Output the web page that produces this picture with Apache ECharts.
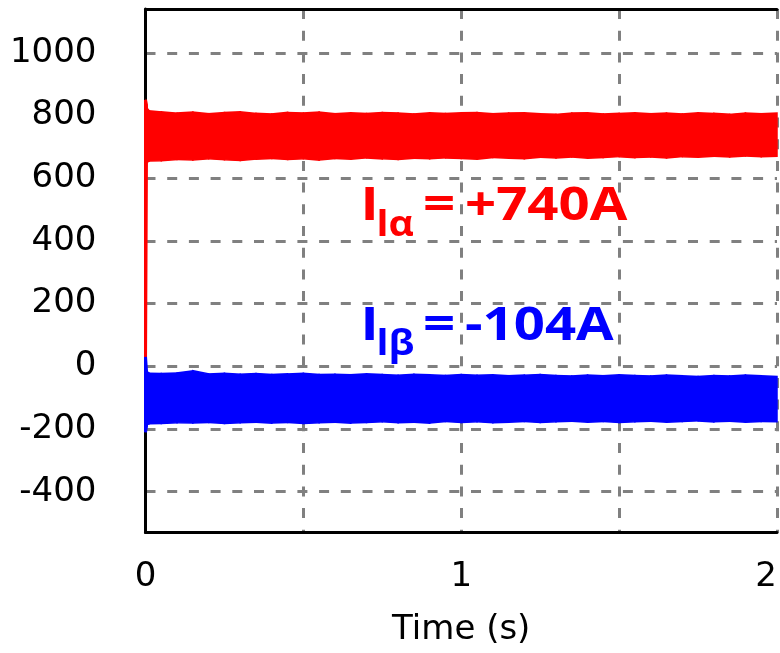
<!DOCTYPE html>
<html>
<head>
<meta charset="utf-8">
<script src="https://cdn.jsdelivr.net/npm/echarts@6/dist/echarts.min.js"></script>
<style>
html,body{margin:0;padding:0;background:#fff;}
#c{width:780px;height:653px;}
</style>
</head>
<body>
<div id="c"></div>
<script>
// ---- data ----
const time = [0, 0.003, 0.006, 0.012,
  0.05, 0.10, 0.15, 0.20, 0.25, 0.30, 0.35, 0.40, 0.45, 0.50,
  0.55, 0.60, 0.65, 0.70, 0.75, 0.80, 0.85, 0.90, 0.95, 1.00,
  1.05, 1.10, 1.15, 1.20, 1.25, 1.30, 1.35, 1.40, 1.45, 1.50,
  1.55, 1.60, 1.65, 1.70, 1.75, 1.80, 1.85, 1.90, 1.95, 2.00];
const iAlphaUpper = [850, 835, 822, 815,
  812, 808, 811, 806, 810, 812, 807, 805, 810, 808,
  811, 806, 809, 807, 810, 808, 805, 809, 807, 809,
  810, 806, 808, 809, 806, 804, 808, 809, 805, 807,
  809, 806, 808, 805, 809, 807, 804, 808, 806, 808];
const iAlphaLower = [0, 648, 652, 655,
  656, 660, 658, 662, 659, 657, 661, 663, 660, 662,
  658, 663, 661, 665, 662, 660, 664, 662, 665, 663,
  661, 666, 664, 662, 667, 665, 668, 664, 666, 669,
  666, 668, 665, 669, 667, 670, 668, 671, 669, 670];
const iBetaUpper = [30, -12, -18, -22,
  -23, -21, -14, -24, -22, -25, -23, -26, -24, -22,
  -26, -25, -27, -24, -26, -28, -25, -27, -29, -26,
  -28, -27, -30, -28, -26, -29, -31, -28, -30, -27,
  -29, -31, -28, -30, -32, -29, -31, -28, -30, -32];
const iBetaLower = [-210, -192, -186, -183,
  -182, -180, -181, -179, -182, -180, -178, -181, -179, -182,
  -180, -178, -181, -179, -177, -180, -178, -181, -176, -179,
  -177, -180, -178, -176, -179, -177, -175, -178, -176, -179,
  -177, -175, -178, -176, -174, -177, -175, -178, -176, -177];
const yTickLabels = [-400, -200, 0, 200, 400, 600, 800, 1000];
const xTickLabels = [0, 1, 2];
const xAxisTitle = 'Time (s)';
const annoMain = ['I', 'I'];
const annoSub = ['lα', 'lβ'];
const annoValue = ['+740A', '-104A'];

// ---- chart ----
const chart = echarts.init(document.getElementById('c'), null, {renderer: 'canvas'});
const RED = '#ff0000', BLUE = '#0000ff';

// each item: one segment of the band [t0, lower0, upper0, t1, lower1, upper1]
function bandSegments(lo, up) {
  const out = [];
  for (let i = 0; i < time.length - 1; i++) {
    out.push([time[i], lo[i], up[i], time[i + 1], lo[i + 1], up[i + 1]]);
  }
  return out;
}
function bandSeries(lo, up, color, z) {
  return {
    type: 'custom', z: z, clip: false,
    data: bandSegments(lo, up),
    encode: {x: [0, 3], y: [1, 2, 4, 5]},
    renderItem: function (params, api) {
      const pts = [
        api.coord([api.value(0), api.value(1)]),
        api.coord([api.value(3), api.value(4)]),
        api.coord([api.value(3), api.value(5)]),
        api.coord([api.value(0), api.value(2)])
      ];
      return {type: 'polygon', shape: {points: pts},
        style: {fill: color, stroke: color, lineWidth: params.dataIndex === 0 ? 3 : 1.5}};
    }
  };
}

const gridLine = {lineStyle: {color: '#808080', width: 3, type: [10, 11.7]}};
const labelFont = {fontFamily: 'DejaVu Sans', fontSize: 34, color: '#000'};

function annoText(x, y, text, color, size, sx) {
  return {type: 'text', x: x, y: y, scaleX: sx, z: 100,
    style: {text: text, fill: color, fontFamily: 'Open Sans', fontWeight: 'bold',
      fontSize: size, align: 'left', verticalAlign: 'middle'}};
}

const option = {
  animation: false,
  backgroundColor: '#fff',
  grid: {left: 145.5, right: 1, top: 9, bottom: 120.5, containLabel: false},
  xAxis: [{
    type: 'value', min: 0, max: 2, interval: 0.5,
    axisLine: {show: true, onZero: false, lineStyle: {color: '#000', width: 3}},
    axisTick: {show: false},
    axisLabel: Object.assign({
      margin: 28, alignMaxLabel: 'right',
      formatter: v => (xTickLabels.indexOf(v) >= 0 ? String(v) : '')
    }, labelFont),
    splitLine: Object.assign({show: true}, gridLine),
    name: xAxisTitle, nameLocation: 'middle', nameGap: 81,
    nameTextStyle: labelFont
  }, {
    type: 'value', position: 'top', min: 0, max: 2,
    axisLine: {show: true, onZero: false, lineStyle: {color: '#000', width: 3}},
    axisTick: {show: false}, axisLabel: {show: false}, splitLine: {show: false}
  }],
  yAxis: {
    type: 'value', min: -530, max: 1140, splitNumber: 8,
    minInterval: 200, maxInterval: 200,
    axisLine: {show: true, onZero: false, lineStyle: {color: '#000', width: 3}},
    axisTick: {show: false},
    axisLabel: Object.assign({
      margin: 49, showMinLabel: false, showMaxLabel: false,
      formatter: v => (yTickLabels.indexOf(v) >= 0 ? String(v) : '')
    }, labelFont),
    splitLine: Object.assign({show: true}, gridLine)
  },
  series: [
    bandSeries(iAlphaLower, iAlphaUpper, RED, 3),
    bandSeries(iBetaLower, iBetaUpper, BLUE, 4)
  ],
  graphic: [
    annoText(360.5, 207, annoMain[0], RED, 47, 1.17),
    annoText(376.5, 226, annoSub[0], RED, 35, 1.12),
    annoText(423, 207, '=', RED, 47, 1.2),
    annoText(465, 207, annoValue[0], RED, 47, 1.16),
    annoText(360.5, 327, annoMain[1], BLUE, 47, 1.17),
    annoText(376.5, 345, annoSub[1], BLUE, 35, 1.12),
    annoText(423, 327, '=', BLUE, 47, 1.2),
    annoText(465, 327, annoValue[1], BLUE, 47, 1.16)
  ]
};
chart.setOption(option);
</script>
</body>
</html>
